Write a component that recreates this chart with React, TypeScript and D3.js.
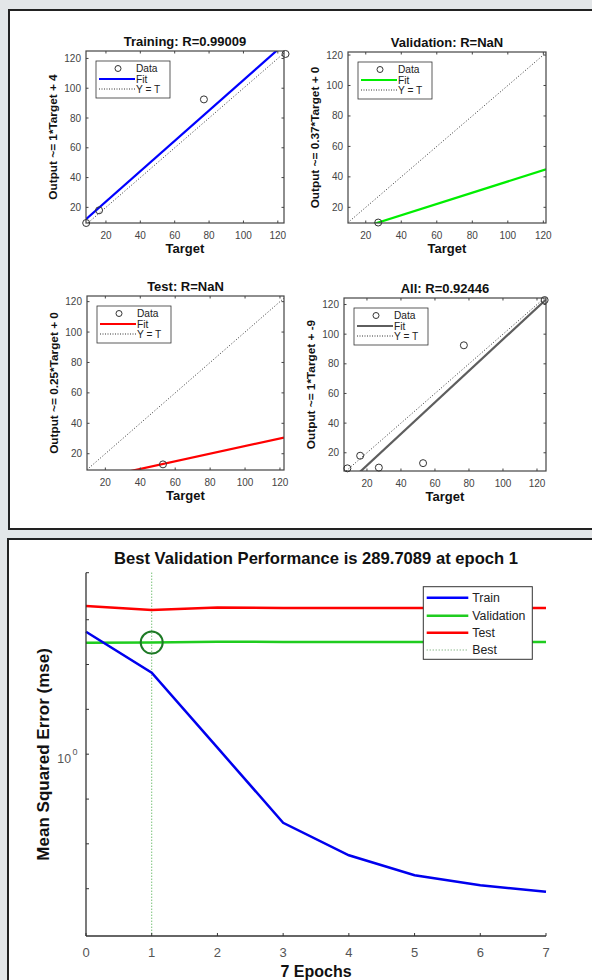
import React from "react";
import { scaleLinear, scaleLog, line } from "d3";

// regression data (target vs network output)
const targets = [8.5, 16, 27, 53, 77, 124.5];
const outputs = [9.5, 18, 10, 13, 92.5, 123];
const panelNames = ["Training", "Validation", "Test", "All"];
const panelR = ["0.99009", "NaN", "NaN", "0.92446"];
const panelMembers = [[0, 1, 4, 5], [2], [3], [0, 1, 2, 3, 4, 5]];
const fitSlope = [1.02, 0.37, 0.25, 1.063];
const fitIntercept = [3.5, 0, 0, -9.8];
const fitLabels = [
  "Output ~= 1*Target + 4",
  "Output ~= 0.37*Target + 0",
  "Output ~= 0.25*Target + 0",
  "Output ~= 1*Target + -9",
];
const xDomains = [[8.4, 123.6], [10, 121.5], [9.5, 122.3], [6.5, 125.3]];
const yDomains = [[9.5, 125], [9.7, 122], [9.3, 123.7], [7.7, 124.4]];
const regTicks = [20, 40, 60, 80, 100, 120];

// performance data
const epochs = [0, 1, 2, 3, 4, 5, 6, 7];
const trainPerf = [1.876, 1.519, 1.034, 0.703, 0.595, 0.537, 0.51, 0.493];
const valPerf = [1.772, 1.774, 1.782, 1.78, 1.779, 1.779, 1.779, 1.779];
const testPerf = [2.14, 2.096, 2.123, 2.12, 2.119, 2.119, 2.119, 2.12];
const bestEpoch = 1;
const perfTicks = [0.501, 0.631, 0.794, 1, 1.259, 1.585, 1.995];
const perfLegend = ["Train", "Validation", "Test", "Best"];

const FONT = "'Liberation Sans', Arial, sans-serif";
const fitColors = ["#0000ff", "#00ee00", "#ff0000", "#5e5e5e"];
// axis boxes: [left, top, right, bottom]
const boxes = [
  [86, 51, 284, 223],
  [348, 52, 546, 223],
  [87, 296, 284, 470],
  [344, 298, 546, 471],
];

const RegPanel = ({ i }: { i: number }) => {
  const [l, t, r, b] = boxes[i];
  const x = scaleLinear().domain(xDomains[i]).range([l, r]);
  const y = scaleLinear().domain(yDomains[i]).range([b, t]);
  const [x0, x1] = xDomains[i];
  const lo = Math.min(x0, yDomains[i][0]);
  const hi = Math.max(x1, yDomains[i][1]);
  const fit = (v: number) => fitSlope[i] * v + fitIntercept[i];
  const clipId = `clip${i}`;
  const lg = { x: l + 10, y: t + 10, w: 74, h: 37 };
  return (
    <g>
      <clipPath id={clipId}>
        <rect x={l} y={t} width={r - l} height={b - t} />
      </clipPath>
      <text x={(l + r) / 2} y={t - 5.5} textAnchor="middle" fontWeight="bold" fontSize={13} fill="#111">
        {panelNames[i]}: R={panelR[i]}
      </text>
      <g clipPath={`url(#${clipId})`}>
        <line x1={x(lo)} y1={y(lo)} x2={x(hi)} y2={y(hi)} stroke="#333" strokeWidth={1} strokeDasharray="1,2" />
        <line x1={x(x0)} y1={y(fit(x0))} x2={x(x1)} y2={y(fit(x1))} stroke={fitColors[i]} strokeWidth={2.2} />
      </g>
      {regTicks.map((v) => (
        <g key={"x" + v}>
          <line x1={x(v)} x2={x(v)} y1={b} y2={b - 2.5} stroke="#444" />
          <line x1={x(v)} x2={x(v)} y1={t} y2={t + 2.5} stroke="#444" />
          <text x={x(v)} y={b + 15.5} textAnchor="middle" fontSize={10} fill="#444">{v}</text>
        </g>
      ))}
      {regTicks.map((v) => (
        <g key={"y" + v}>
          <line x1={l} x2={l + 2.5} y1={y(v)} y2={y(v)} stroke="#444" />
          <line x1={r} x2={r - 2.5} y1={y(v)} y2={y(v)} stroke="#444" />
          <text x={l - 5} y={y(v) + 3.5} textAnchor="end" fontSize={10} fill="#444">{v}</text>
        </g>
      ))}
      <rect x={l} y={t} width={r - l} height={b - t} fill="none" stroke="#444" strokeWidth={1.2} />
      {panelMembers[i].map((k) => (
        <circle key={k} cx={x(targets[k])} cy={y(outputs[k])} r={3.5} fill="none" stroke="#333" strokeWidth={1} />
      ))}
      <text x={(l + r) / 2} y={b + 30} textAnchor="middle" fontWeight="bold" fontSize={13} fill="#111">Target</text>
      <text
        transform={`translate(${l - 29},${(t + b) / 2}) rotate(-90)`}
        textAnchor="middle"
        fontWeight="bold"
        fontSize={11.8}
        fill="#111"
      >
        {fitLabels[i]}
      </text>
      <g fontSize={10.2} fill="#222">
        <rect x={lg.x} y={lg.y} width={lg.w} height={lg.h} fill="#fff" stroke="#333" strokeWidth={0.8} />
        <circle cx={lg.x + 22} cy={lg.y + 7.5} r={3} fill="none" stroke="#333" />
        <text x={lg.x + 40} y={lg.y + 11.2}>Data</text>
        <line x1={lg.x + 3} x2={lg.x + 39} y1={lg.y + 18} y2={lg.y + 18} stroke={fitColors[i]} strokeWidth={2} />
        <text x={lg.x + 40} y={lg.y + 21.7}>Fit</text>
        <line x1={lg.x + 3} x2={lg.x + 39} y1={lg.y + 28} y2={lg.y + 28} stroke="#333" strokeDasharray="1,1.5" />
        <text x={lg.x + 40} y={lg.y + 31.7}>Y = T</text>
      </g>
    </g>
  );
};

const PerfPlot = () => {
  const l = 86, r = 546, t = 572.7, b = 936;
  const x = scaleLinear().domain([0, 7]).range([l, r]);
  const y = scaleLog().domain([0.393, 2.54]).range([b, t]);
  const path = line<number>()
    .x((_, j) => x(epochs[j]))
    .y((d) => y(d));
  const lgX = 423.3, lgY = 586.7;
  const legendRows = [597.7, 615.7, 632.7, 650];
  const legendColors = ["#0000ff", "#1fcc1f", "#ff0000", "#5a9a5a"];
  return (
    <g>
      <text x={(l + r) / 2} y={564.3} textAnchor="middle" fontWeight="bold" fontSize={16.6} fill="#111">
        Best Validation Performance is 289.7089 at epoch 1
      </text>
      <line x1={x(bestEpoch)} x2={x(bestEpoch)} y1={t} y2={b} stroke="#3aa43a" strokeWidth={1} strokeDasharray="1,2" />
      <path d={path(testPerf) || ""} fill="none" stroke="#ff0000" strokeWidth={2.5} />
      <path d={path(valPerf) || ""} fill="none" stroke="#1fcc1f" strokeWidth={2.5} />
      <path d={path(trainPerf) || ""} fill="none" stroke="#0000ee" strokeWidth={2.5} />
      <circle cx={x(bestEpoch)} cy={y(valPerf[bestEpoch])} r={11} fill="none" stroke="#1e7a26" strokeWidth={2} />
      <line x1={l} x2={l} y1={t} y2={b} stroke="#333" strokeWidth={1.3} />
      <line x1={l} x2={r} y1={b} y2={b} stroke="#333" strokeWidth={1.3} />
      {perfTicks.map((v) => (
        <line key={v} x1={l} x2={l + 3} y1={y(v)} y2={y(v)} stroke="#333" />
      ))}
      <line x1={l} x2={l + 3} y1={t} y2={t} stroke="#333" />
      <text x={71} y={763} textAnchor="end" fontSize={12.3} fill="#555">10</text>
      <text x={72.5} y={755} fontSize={9} fill="#555">0</text>
      {epochs.map((e) => (
        <g key={e}>
          <line x1={x(e)} x2={x(e)} y1={b} y2={b - 3} stroke="#333" />
          <text x={x(e)} y={957.3} textAnchor="middle" fontSize={13} fill="#555">{e}</text>
        </g>
      ))}
      <text x={(l + r) / 2} y={977} textAnchor="middle" fontWeight="bold" fontSize={16} fill="#111">7 Epochs</text>
      <text
        transform={`translate(49,${(t + b) / 2}) rotate(-90)`}
        textAnchor="middle"
        fontWeight="bold"
        fontSize={17}
        fill="#111"
      >
        Mean Squared Error  (mse)
      </text>
      <rect x={lgX} y={lgY} width={109} height={72.6} fill="#fff" stroke="#333" strokeWidth={1} />
      {perfLegend.map((name, j) => (
        <g key={name}>
          <line
            x1={lgX + 3.4}
            x2={lgX + 45}
            y1={legendRows[j]}
            y2={legendRows[j]}
            stroke={legendColors[j]}
            strokeWidth={j === 3 ? 1 : 2.5}
            strokeDasharray={j === 3 ? "1,2" : undefined}
          />
          <text x={lgX + 49} y={legendRows[j] + 4.3} fontSize={12.3} fill="#222">{name}</text>
        </g>
      ))}
    </g>
  );
};

export default function App() {
  return (
    <svg width={592} height={980} style={{ position: "absolute", left: 0, top: 0 }} fontFamily={FONT}>
      <rect x={0} y={0} width={592} height={980} fill="#e3e6e8" />
      <rect x={9} y={10} width={600} height={519} fill="#fff" stroke="#222" strokeWidth={2} />
      <rect x={8} y={539} width={600} height={460} fill="#fff" stroke="#222" strokeWidth={2} />
      {panelNames.map((_, i) => (
        <RegPanel key={i} i={i} />
      ))}
      <PerfPlot />
    </svg>
  );
}
